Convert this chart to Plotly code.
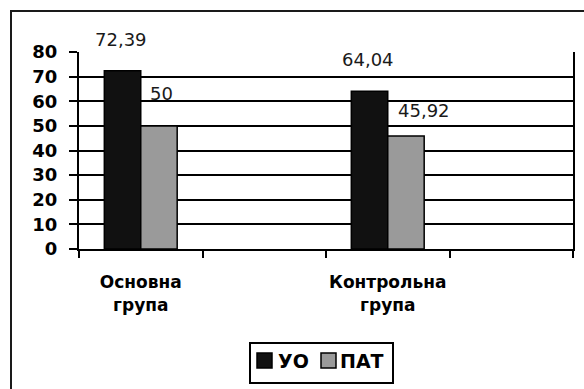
import plotly.graph_objects as go

# Category slots on the x axis (the blank ones keep the empty spacing slots)
categories = ["Основна<br>група", " ", "Контрольна<br>група", "  "]
groups = ["Основна<br>група", "Контрольна<br>група"]
series_names = ["УО", "ПАТ"]
series_colors = ["#111111", "#9a9a9a"]
uo_values = [72.39, 64.04]
pat_values = [50, 45.92]
y_ticks = [0, 10, 20, 30, 40, 50, 60, 70, 80]

W, H = 584, 389
L, R, T, B = 79, 11, 52, 140
plot_w = W - L - R
plot_h = H - T - B


def px_x(px):
    return (px - L) / plot_w


def px_y(py):
    return (H - B - py) / plot_h


def fmt(v):
    return f"{v:g}".replace(".", ",")


fig = go.Figure()
for name, color, vals in zip(series_names, series_colors, [uo_values, pat_values]):
    fig.add_trace(go.Bar(name=name, x=groups, y=vals, showlegend=False,
                         marker=dict(color=color, line=dict(color="#000000", width=1.5))))

# value labels above the bars (per-label pixel nudges)
bar_half = 18.25
label_specs = [
    (groups[0], uo_values[0], -bar_half - 1.5, 31),
    (groups[0], pat_values[0], bar_half + 2, 32),
    (groups[1], uo_values[1], -bar_half - 1.5, 32),
    (groups[1], pat_values[1], bar_half + 17.5, 25.5),
]
for cat, val, dx, dy in label_specs:
    fig.add_annotation(x=cat, y=val, xref="x", yref="y", text=fmt(val),
                       showarrow=False, xanchor="center", yanchor="middle",
                       xshift=dx, yshift=dy,
                       font=dict(family="DejaVu Sans", size=18, color="#1a1a1a"))

# outer chart frame (runs past the right and bottom edges)
fig.add_shape(type="rect", xref="paper", yref="paper",
              x0=px_x(11), x1=px_x(W + 6), y0=px_y(H + 6), y1=px_y(11),
              line=dict(color="#1a1a1a", width=2), fillcolor="rgba(0,0,0,0)",
              layer="below")

# legend box with its two keys
fig.add_shape(type="rect", xref="paper", yref="paper",
              x0=px_x(250), x1=px_x(393), y0=px_y(383), y1=px_y(343),
              line=dict(color="#000000", width=2), fillcolor="white")
legend_keys = [(257, 276), (321, 338)]
for (sq_x, tx_x), name, color in zip(legend_keys, series_names, series_colors):
    fig.add_shape(type="rect", xref="paper", yref="paper",
                  x0=px_x(sq_x), x1=px_x(sq_x + 15), y0=px_y(368), y1=px_y(353),
                  line=dict(color="#000000", width=1.5), fillcolor=color)
    fig.add_annotation(x=px_x(tx_x), y=px_y(361), xref="paper", yref="paper",
                       text=f"<b>{name}</b>", showarrow=False,
                       xanchor="left", yanchor="middle",
                       font=dict(family="DejaVu Sans", size=19, color="#000000"))

fig.update_layout(
    width=W, height=H,
    margin=dict(l=L, r=R, t=T, b=B, autoexpand=False),
    paper_bgcolor="white", plot_bgcolor="white",
    barmode="group", bargap=0.41, bargroupgap=0,
    showlegend=False,
    font=dict(family="DejaVu Sans", color="#000000"),
)
fig.update_xaxes(type="category", categoryorder="array", categoryarray=categories,
                 range=[-0.5, len(categories) - 0.5], automargin=False,
                 tickmode="array", tickvals=categories, ticktext=categories,
                 tickangle=0,
                 tickson="boundaries", ticks="outside", ticklen=7, tickwidth=2,
                 tickcolor="#000000",
                 showline=True, linecolor="#000000", linewidth=2,
                 showgrid=False, zeroline=False,
                 ticklabelstandoff=17,
                 tickfont=dict(family="DejaVu Sans", size=17, color="#000000", weight="bold"))
fig.update_yaxes(range=[0, 80], tickmode="array", tickvals=y_ticks, automargin=False,
                 ticks="outside", ticklen=8, tickwidth=2, tickcolor="#000000",
                 showline=True, mirror=True, linecolor="#000000", linewidth=2,
                 showgrid=True, gridcolor="#000000", gridwidth=2, zeroline=False,
                 ticklabelstandoff=8,
                 tickfont=dict(family="DejaVu Sans", size=18, color="#000000", weight="bold"))

fig.write_html("out.html")
